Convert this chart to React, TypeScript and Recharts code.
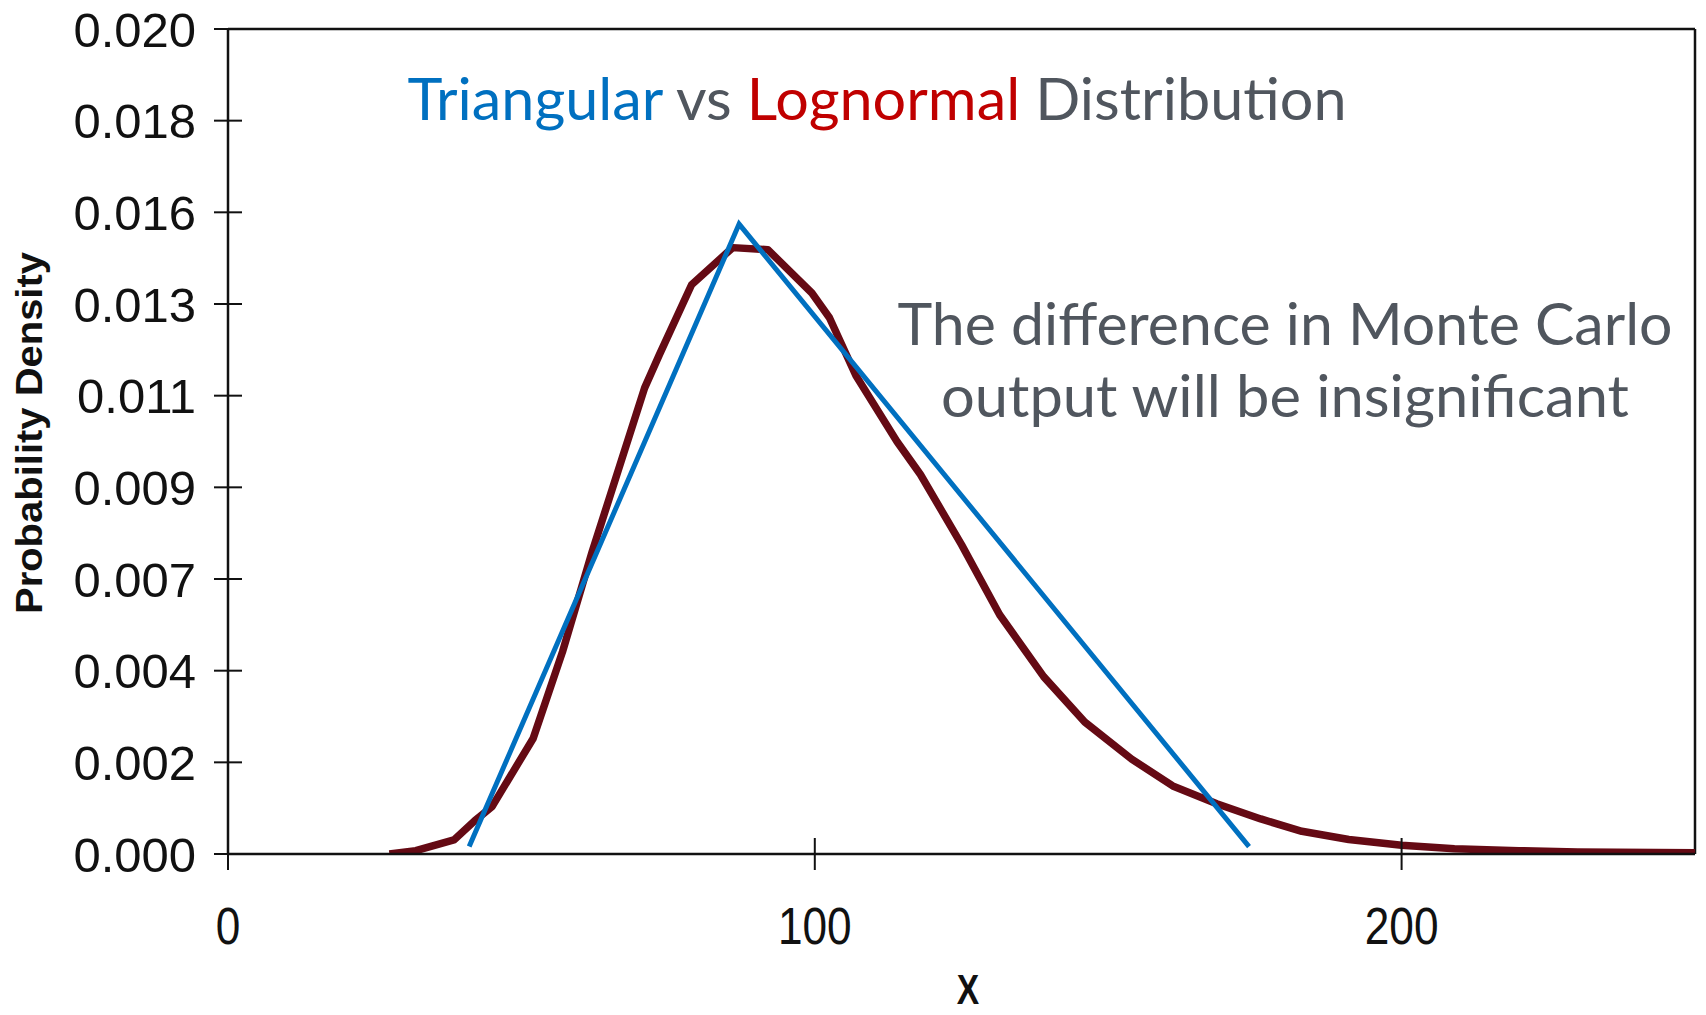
import { LineChart, Line, XAxis, YAxis, ReferenceLine } from "recharts"

const lognormalX = [27.5, 32, 38.5, 42, 45, 52, 57, 62, 66.5, 71, 73.5, 79, 86, 92, 99.5, 102.5, 107, 114, 118, 125, 131.5, 139, 146, 154, 161, 168.5, 176, 183, 191, 200, 209, 220, 230, 250]
const lognormalY = [0, 0.00008, 0.00034, 0.0008, 0.00115, 0.0028, 0.0049, 0.0073, 0.0093, 0.0113, 0.0121, 0.0138, 0.0147, 0.01465, 0.0136, 0.013, 0.0116, 0.01, 0.0092, 0.0075, 0.0058, 0.0043, 0.0032, 0.0023, 0.00165, 0.00122, 0.00085, 0.00055, 0.00035, 0.00021, 0.00013, 0.00008, 0.00005, 0.00003]

const triangularX = [41.1, 87.1, 174]
const triangularY = [0.00018, 0.01527, 0.00018]

const xTicks = [0, 100, 200]
const yTicks = [0, 0.002222, 0.004444, 0.006667, 0.008889, 0.011111, 0.013333, 0.015556, 0.017778, 0.02]

const lognormal = lognormalX.map((x, i) => ({ x, y: lognormalY[i] }))
const triangular = triangularX.map((x, i) => ({ x, y: triangularY[i] }))

const BLUE = "#0070C0"
const RED = "#C00000"
const GRAY = "#50565E"
const MAROON = "#650A14"
const INK = "#111"

function YTick({ x, y, payload }: any) {
  return (
    <g>
      <line x1={x - 14} x2={x + 14} y1={y} y2={y} stroke={INK} strokeWidth={2} />
      <text x={x - 32} y={y} dy="0.36em" textAnchor="end" fontSize={49} fill={INK} fontFamily="Liberation Sans, Arial, sans-serif">
        {Number(payload.value).toFixed(3)}
      </text>
    </g>
  )
}

function XTick({ x, y, payload }: any) {
  return (
    <g>
      <line x1={x} x2={x} y1={y - 16} y2={y + 16} stroke={INK} strokeWidth={2} />
      <text transform={`translate(${x},${y + 90}) scale(0.85,1)`} textAnchor="middle" fontSize={52} fill={INK} fontFamily="Liberation Sans, Arial, sans-serif">
        {payload.value}
      </text>
    </g>
  )
}

export default function App() {
  return (
    <div style={{ position: "absolute", left: 0, top: 0, width: 1706, height: 1015, background: "#fff" }}>
      <LineChart width={1706} height={1015} margin={{ top: 29, right: 11, left: 0, bottom: 0 }}>
        <XAxis
          type="number"
          dataKey="x"
          domain={[0, 250]}
          ticks={xTicks}
          height={161}
          tickSize={0}
          tickMargin={0}
          tick={<XTick />}
          stroke={INK}
          strokeWidth={2.5}
          allowDataOverflow
        />
        <YAxis
          type="number"
          dataKey="y"
          domain={[0, 0.02]}
          ticks={yTicks}
          width={228}
          tickSize={0}
          tickMargin={0}
          tick={<YTick />}
          stroke={INK}
          strokeWidth={2.5}
          allowDataOverflow
        />
        <ReferenceLine y={0.02} stroke={INK} strokeWidth={2.5} />
        <ReferenceLine x={250} stroke={INK} strokeWidth={2.5} />
        <Line data={lognormal} dataKey="y" type="linear" stroke={MAROON} strokeWidth={7.5} dot={false} strokeLinejoin="round" isAnimationActive={false} />
        <Line data={triangular} dataKey="y" type="linear" stroke={BLUE} strokeWidth={5} dot={false} isAnimationActive={false} />
      </LineChart>
      <svg width={1706} height={1015} style={{ position: "absolute", left: 0, top: 0, pointerEvents: "none" }}>
        <text x={877} y={120} textAnchor="middle" fontSize={58} fontFamily="Lato, sans-serif" textLength={939} lengthAdjust="spacingAndGlyphs">
          <tspan fill={BLUE}>Triangular</tspan>
          <tspan fill={GRAY}> vs </tspan>
          <tspan fill={RED}>Lognormal</tspan>
          <tspan fill={GRAY}> Distribution</tspan>
        </text>
        <text x={1285} y={345} textAnchor="middle" fontSize={58} fontFamily="Lato, sans-serif" fill={GRAY} textLength={775} lengthAdjust="spacingAndGlyphs">
          The difference in Monte Carlo
        </text>
        <text x={1285} y={417} textAnchor="middle" fontSize={58} fontFamily="Lato, sans-serif" fill={GRAY} textLength={688} lengthAdjust="spacingAndGlyphs">
          output will be insignificant
        </text>
        <text transform="translate(42,433) rotate(-90)" textAnchor="middle" fontSize={36} fontWeight="bold" fontFamily="Liberation Sans, Arial, sans-serif" fill={INK} textLength={362} lengthAdjust="spacingAndGlyphs">
          Probability Density
        </text>
        <text transform="translate(968,1004) scale(0.8,1)" textAnchor="middle" fontSize={42} fontWeight="bold" fontFamily="Liberation Sans, Arial, sans-serif" fill={INK}>
          X
        </text>
      </svg>
    </div>
  )
}
